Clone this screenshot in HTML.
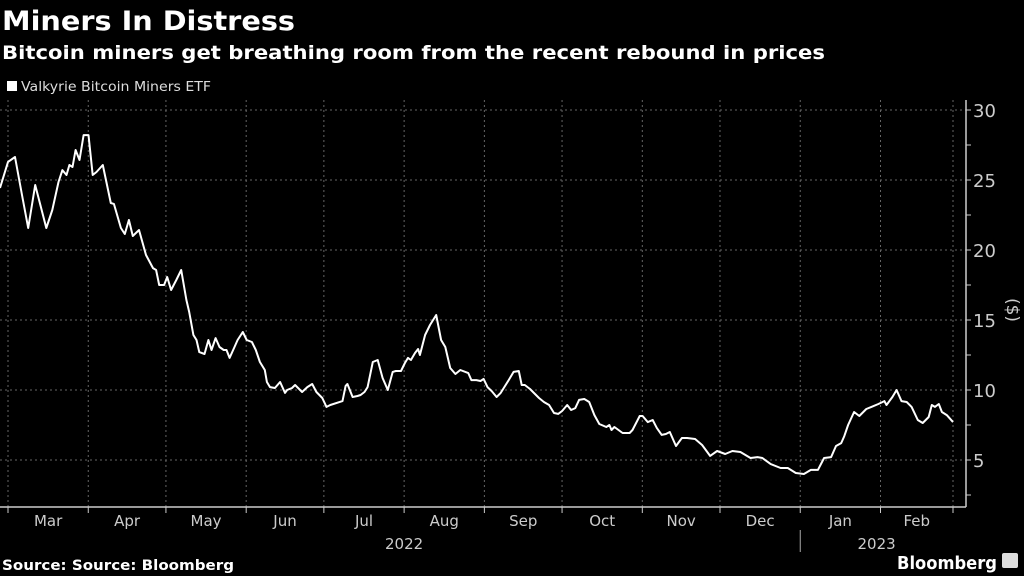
<!DOCTYPE html>
<html><head><meta charset="utf-8"><style>
html,body{margin:0;padding:0;background:#000;}
svg{display:block;font-family:"DejaVu Sans","Liberation Sans",sans-serif;}
</style></head><body>
<svg id="chart" width="1024" height="576" viewBox="0 0 1024 576">
<rect x="0" y="0" width="1024" height="576" fill="#000"/>
<text x="2" y="30" fill="#fff" font-weight="bold" font-size="27" textLength="293" lengthAdjust="spacingAndGlyphs">Miners In Distress</text>
<text x="2" y="59" fill="#fff" font-weight="bold" font-size="19" textLength="823" lengthAdjust="spacingAndGlyphs">Bitcoin miners get breathing room from the recent rebound in prices</text>
<rect x="7" y="81" width="10" height="10" fill="#fff"/>
<text x="21" y="91" fill="#ddd" font-size="13" textLength="190" lengthAdjust="spacingAndGlyphs">Valkyrie Bitcoin Miners ETF</text>
<g id="grid"></g>
<g id="axes"></g>
<path id="series" fill="none" stroke="#fff" stroke-width="2" stroke-linejoin="round"/>
<text transform="translate(1007,310) rotate(90)" text-anchor="middle" fill="#ccc" font-size="17">($)</text>
<text x="2" y="570" fill="#fff" font-weight="bold" font-size="14" textLength="232" lengthAdjust="spacingAndGlyphs">Source: Source: Bloomberg</text>
<text x="897" y="569" fill="#fff" font-weight="bold" font-size="18" textLength="100" lengthAdjust="spacingAndGlyphs">Bloomberg</text>
<rect x="1002" y="553" width="16" height="15" rx="2" fill="#ddd"/>
</svg>
<script>
// days since 2022-03-01
const days=[-3.1,0,2.7,5.4,7.8,10.5,14.8,17.1,19.5,21.0,22.6,23.7,24.9,26.1,27.6,29.2,31.1,32.7,34.2,36.6,39.7,40.9,43.6,45.1,46.7,48.2,50.6,53.3,56.0,57.2,58.4,60.3,61.5,63.0,65.0,66.9,68.9,70.0,71.6,72.8,73.9,75.9,77.4,78.6,80.2,81.7,83.3,84.4,85.6,87.5,88.7,90.7,92.2,94.2,95.7,97.3,99.2,100.0,101.2,103.1,105.1,107.0,107.8,109.7,110.9,113.6,115.6,117.5,119.1,121.4,123.0,124.5,129.2,130.4,131.1,133.1,135.0,136.2,137.7,138.9,140.9,142.8,144.7,146.7,148.6,149.8,151.8,153.3,154.5,155.6,157.2,158.4,159.1,161.1,163.0,165.4,167.3,168.9,170.8,172.8,174.7,177.8,179.0,180.9,182.5,183.7,185.2,186.8,188.7,190.3,193.4,195.3,197.3,198.4,199.6,201.6,205.1,207.0,209.0,210.9,212.5,214.0,216.0,217.5,219.1,220.6,222.6,224.5,226.5,228.4,231.1,232.3,233.1,234.2,237.4,240.1,241.2,244.0,245.1,247.1,249.0,250.6,252.5,254.1,255.6,258.0,260.3,262.3,265.4,268.1,271.2,273.9,277.0,279.8,282.9,286.8,289.5,291.4,294.6,298.4,301.2,304.3,307.4,310.1,312.8,315.2,317.9,319.8,321.8,323.0,324.5,326.8,328.8,331.5,333.5,336.2,338.5,339.3,341.6,343.2,345.1,347.1,349.0,351.4,353.3,355.6,356.8,358.0,359.5,360.7,362.6,365.0];
const prices=[24.43,26.29,26.64,23.93,21.57,24.64,21.57,22.86,24.86,25.71,25.36,26.07,25.93,27.14,26.43,28.21,28.21,25.36,25.57,26.07,23.36,23.29,21.57,21.14,22.14,21.0,21.43,19.64,18.71,18.57,17.5,17.5,18.07,17.14,17.86,18.57,16.43,15.57,13.93,13.57,12.71,12.57,13.57,12.86,13.71,13.07,12.86,12.86,12.29,13.07,13.57,14.14,13.57,13.43,12.86,12.0,11.43,10.57,10.21,10.14,10.57,9.79,10.0,10.14,10.36,9.86,10.21,10.43,9.86,9.43,8.79,8.93,9.21,10.29,10.43,9.5,9.57,9.64,9.86,10.21,12.0,12.14,10.86,10.0,11.29,11.36,11.36,11.93,12.29,12.14,12.64,12.93,12.5,13.93,14.64,15.36,13.57,13.07,11.57,11.14,11.43,11.21,10.71,10.71,10.64,10.79,10.21,9.93,9.5,9.79,10.71,11.29,11.36,10.36,10.36,10.07,9.43,9.14,8.93,8.36,8.29,8.5,8.93,8.57,8.71,9.29,9.36,9.14,8.21,7.57,7.36,7.5,7.14,7.36,6.93,6.93,7.14,8.14,8.14,7.71,7.86,7.29,6.79,6.86,7.0,6.0,6.57,6.57,6.5,6.07,5.29,5.64,5.43,5.64,5.57,5.14,5.21,5.14,4.71,4.43,4.43,4.07,4.0,4.29,4.29,5.14,5.21,6.0,6.21,6.71,7.5,8.43,8.14,8.64,8.79,9.0,9.21,8.93,9.5,10.0,9.21,9.14,8.79,7.86,7.64,8.07,8.93,8.79,9.0,8.43,8.21,7.71];
const monthStarts=[0,31,61,92,122,153,184,214,245,275,306,337,365];
const monthLabels=["Mar","Apr","May","Jun","Jul","Aug","Sep","Oct","Nov","Dec","Jan","Feb"];
const yTicks=[2.5,5,7.5,10,12.5,15,17.5,20,22.5,25,27.5,30];
const yLabels=[5,10,15,20,25,30];
const years=[{label:"2022",from:0,to:306},{label:"2023",from:306,to:365}];

const X0=8,X1=953,PL=0,PR=966,PT=100,PB=507;
const xs=d=>X0+d*(X1-X0)/365;
const ys=v=>530-14*v;
const NS="http://www.w3.org/2000/svg";
function mk(tag,attrs,parent){const e=document.createElementNS(NS,tag);for(const k in attrs)e.setAttribute(k,attrs[k]);parent.appendChild(e);return e;}
const grid=document.getElementById('grid'),axes=document.getElementById('axes');
yLabels.forEach(v=>{
  const l=mk('line',{x1:PL,x2:PR,y1:ys(v),y2:ys(v),stroke:'#666','stroke-dasharray':'2,3','stroke-width':1},grid);
  
  
  const t=mk('text',{x:PR+7,y:ys(v)+7,fill:'#ccc','font-size':18},axes);
  t.textContent=v;
  
  
});
yTicks.forEach(v=>{
  const l=mk('line',{x1:PR,x2:PR+5,y1:ys(v),y2:ys(v),stroke:'#ccc','stroke-width':1},axes);
  
  
});
monthStarts.forEach(d=>{
  const l=mk('line',{x1:xs(d),x2:xs(d),y1:PT,y2:PB,stroke:'#666','stroke-dasharray':'2,3','stroke-width':1},grid);
  
  
  const tk=mk('line',{x1:xs(d),x2:xs(d),y1:PB,y2:PB+6,stroke:'#ccc','stroke-width':1},axes);
  
  
});
monthLabels.forEach((m,i)=>{
  const t=mk('text',{x:(xs(monthStarts[i])+xs(monthStarts[i+1]))/2,y:526,fill:'#ccc','font-size':15,'text-anchor':'middle'},axes);
  t.textContent=m;
  
  
});
years.forEach(y=>{
  const t=mk('text',{x:(xs(y.from)+xs(y.to))/2,y:549,fill:'#ccc','font-size':15,'text-anchor':'middle'},axes);
  t.textContent=y.label;
  
  
});
const sep=mk('line',{x1:xs(306),x2:xs(306),y1:530,y2:552,stroke:'#aaa','stroke-width':1},axes);


const ax=mk('line',{x1:PL,x2:PR,y1:PB,y2:PB,stroke:'#ccc','stroke-width':1.5},axes);


const ay=mk('line',{x1:PR,x2:PR,y1:PT,y2:PB,stroke:'#ccc','stroke-width':1.5},axes);


document.getElementById('series').setAttribute('d',days.map((d,i)=>(i?'L':'M')+Math.max(0,xs(d)).toFixed(1)+','+ys(prices[i]).toFixed(1)).join(''));
</script>
</body></html>
